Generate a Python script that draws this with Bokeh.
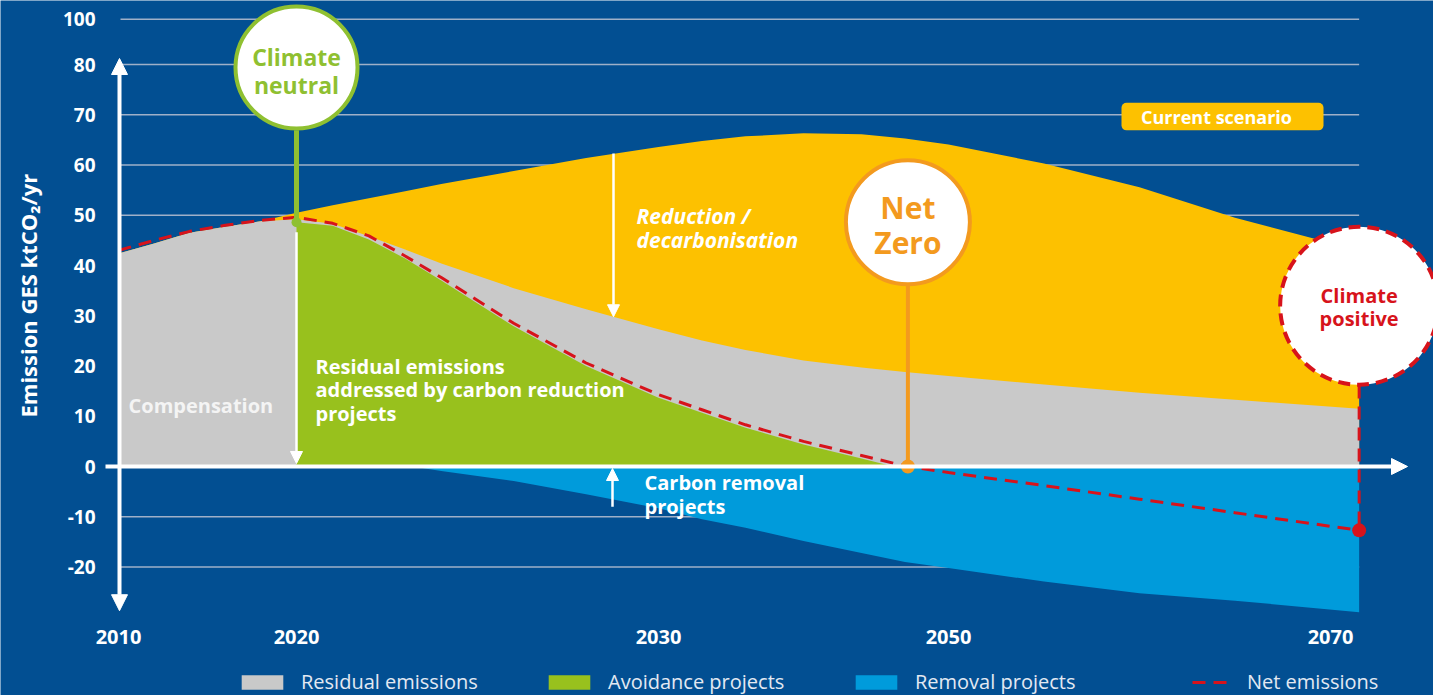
import numpy as np
from bokeh.plotting import figure
from bokeh.models import (Range1d, LinearAxis, FixedTicker, Grid, Arrow, NormalHead,
                          Legend, LegendItem, Label, ColumnDataSource)
from bokeh.core.properties import value
from bokeh.embed import file_html
from bokeh.resources import INLINE

# ---------------- data ----------------
# schematic (non-linear) year axis: tick years and their positions along the axis
AXIS_YEARS = [2010, 2020, 2030, 2050, 2070]
AXIS_POS = [118, 296, 658, 948, 1330]

Y_TICKS = [-20, -10, 0, 10, 20, 30, 40, 50, 60, 70, 80, 89]
Y_TICK_LABELS = ["-20", "-10", "0", "10", "20", "30", "40", "50", "60", "70", "80", "100"]

YEARS = [2010, 2012, 2014, 2016, 2018, 2020, 2021, 2022, 2023, 2024, 2026, 2028, 2030,
         2033, 2036, 2040, 2044, 2047, 2050, 2055, 2060, 2065, 2071.5]
CURRENT_SCENARIO = [42.4, 44.4, 46.5, 47.7, 48.8, 50.5, 52.0, 53.4, 54.8, 56.2, 58.8, 61.4, 63.6,
                    64.8, 65.7, 66.3, 66.1, 65.3, 64.1, 60.3, 55.6, 49.5, 43.0]
RESIDUAL_EMISSIONS = [42.4, 44.4, 46.5, 47.7, 48.8, 49.2, 48.3, 45.8, 43.2, 40.4, 35.5, 31.3, 27.3,
                      25.1, 23.2, 21.1, 19.7, 18.8, 18.0, 16.3, 14.7, 13.3, 11.5]
NET_EMISSIONS = [43.0, 45.0, 46.8, 48.0, 49.0, 49.6, 48.4, 45.9, 41.9, 37.6, 28.5, 20.6, 14.3,
                 11.3, 8.3, 5.0, 2.2, 0.1, -1.2, -3.8, -6.5, -9.2, -12.7]

AVOID_YEARS = [2020, 2021, 2022, 2023, 2024, 2026, 2028, 2030, 2033, 2036, 2040, 2044, 2046.2]
AVOIDANCE_PROJECTS = [48.6, 47.9, 45.2, 41.4, 37.0, 27.9, 20.0, 13.7, 10.7, 7.7, 4.4, 1.6, 0.0]

REMOVAL_YEARS = [2023.2, 2024, 2026, 2028, 2030, 2033, 2036, 2040, 2044, 2047,
                 2050, 2055, 2060, 2065, 2071.5]
REMOVAL_PROJECTS = [0.0, -0.9, -2.9, -5.5, -8.3, -10.5, -12.2, -14.8, -17.2, -19.0,
                    -20.2, -22.9, -25.2, -26.7, -29.0]

NEUTRAL_YEAR = 2020
NET_ZERO_YEAR = 2047.2
POSITIVE_YEAR = 2071.5

# ---------------- style ----------------
BG = "#024f92"
YELLOW = "#fdc100"
GREY = "#c9c9c9"
GREEN = "#98c11d"
BLUE = "#009bdb"
RED = "#d7131b"
ORANGE = "#f39a1e"
NEUTRAL_GREEN = "#8fc031"
GRIDC = "#9fb0c8"
FONT_NAME = "Open Sans"
FONT = value(FONT_NAME)


def xpos(years):
    yrs = np.atleast_1d(np.asarray(years, dtype=float))
    ay = np.asarray(AXIS_YEARS, dtype=float)
    ap = np.asarray(AXIS_POS, dtype=float)
    out = np.interp(yrs, ay, ap)
    hi = yrs > ay[-1]
    slope = (ap[-1] - ap[-2]) / (ay[-1] - ay[-2])
    out[hi] = ap[-1] + (yrs[hi] - ay[-1]) * slope
    return out


W, H = 1433, 695
p = figure(width=W, height=H, output_backend="svg", toolbar_location=None,
           x_range=Range1d(0, W), y_range=Range1d(-45.57, 92.74),
           x_axis_location=None, y_axis_location=None, min_border=0,
           background_fill_color=BG, border_fill_color=BG, outline_line_color=None)
# drop the default grids
p.center = [r for r in p.center if not isinstance(r, Grid)]

# horizontal grid lines, limited to the plotted span
grid_vals = [t for t in Y_TICKS if t != 0]
grid_x0 = float(xpos(AXIS_YEARS[0])[0]) + 2
grid_x1 = float(xpos(POSITIVE_YEAR)[0])
p.segment(x0=[grid_x0] * len(grid_vals), y0=grid_vals, x1=[grid_x1] * len(grid_vals),
          y1=grid_vals, line_color=GRIDC, line_width=1.6, level="underlay")

# axes with fixed locations
xaxis = LinearAxis(ticker=FixedTicker(ticks=AXIS_POS, minor_ticks=[]),
                   major_label_overrides={pos: str(yr) for pos, yr in zip(AXIS_POS, AXIS_YEARS)},
                   fixed_location=-30.6, axis_line_color=None,
                   major_tick_line_color=None, minor_tick_line_color=None,
                   major_label_text_color="white", major_label_text_font=FONT_NAME,
                   major_label_text_font_style="bold", major_label_text_font_size="20px",
                   major_label_standoff=4)
p.add_layout(xaxis, "below")
yaxis = LinearAxis(ticker=FixedTicker(ticks=Y_TICKS, minor_ticks=[]),
                   major_label_overrides=dict(zip(Y_TICKS, Y_TICK_LABELS)),
                   fixed_location=106, axis_line_color=None,
                   major_tick_line_color=None, minor_tick_line_color=None,
                   major_label_text_color="white", major_label_text_font=FONT_NAME,
                   major_label_text_font_style="bold", major_label_text_font_size="19px",
                   major_label_standoff=5)
p.add_layout(yaxis, "left")

# areas
src = ColumnDataSource(dict(x=xpos(YEARS), current=CURRENT_SCENARIO,
                            residual=RESIDUAL_EMISSIONS, net=NET_EMISSIONS,
                            zero=[0.0] * len(YEARS)))
r_yellow = p.varea(x="x", y1="zero", y2="current", source=src, fill_color=YELLOW)
r_grey = p.varea(x="x", y1="zero", y2="residual", source=src, fill_color=GREY)
r_green = p.varea(x=xpos(AVOID_YEARS), y1=[0.0] * len(AVOID_YEARS), y2=AVOIDANCE_PROJECTS,
                  fill_color=GREEN)
r_blue = p.varea(x=xpos(REMOVAL_YEARS), y1=REMOVAL_PROJECTS, y2=[0.0] * len(REMOVAL_YEARS),
                 fill_color=BLUE)

# white axis arrows
p.add_layout(Arrow(start=NormalHead(size=16, fill_color="white", line_color="white"),
                   end=NormalHead(size=16, fill_color="white", line_color="white"),
                   x_start=119, y_start=-28.7, x_end=119, y_end=81.2,
                   line_color="white", line_width=4))
p.add_layout(Arrow(end=NormalHead(size=16, fill_color="white", line_color="white"),
                   x_start=105, y_start=0, x_end=1407, y_end=0,
                   line_color="white", line_width=4))

# net emissions line
r_net = p.line(x="x", y="net", source=src, line_color=RED, line_width=3, line_dash="13 8")

# inner white arrows
nx = float(xpos(NEUTRAL_YEAR)[0])
for (xs, ys, xe, ye) in [(nx, 46.6, nx, 0.6), (613, 62.3, 613, 29.8), (612, -8.0, 612, -0.4)]:
    p.add_layout(Arrow(end=NormalHead(size=12, fill_color="white", line_color="white"),
                       x_start=xs, y_start=ys, x_end=xe, y_end=ye,
                       line_color="white", line_width=2.5))

# Climate neutral marker
p.segment(x0=[nx], y0=[66.9], x1=[nx], y1=[AVOIDANCE_PROJECTS[0]],
          line_color=NEUTRAL_GREEN, line_width=5)
p.circle(x=[nx], y=[AVOIDANCE_PROJECTS[0]], radius=5, fill_color=NEUTRAL_GREEN, line_color=None)
p.circle(x=[nx], y=[79.4], radius=61, fill_color="white", line_color=NEUTRAL_GREEN, line_width=4)
p.text(x=[nx, nx], y=[81.4, 75.9], text=["Climate", "neutral"], text_align="center",
       text_baseline="middle", text_color=NEUTRAL_GREEN, text_font=FONT,
       text_font_style="bold", text_font_size="23px")

# Net zero marker
zx = float(xpos(NET_ZERO_YEAR)[0])
p.segment(x0=[zx], y0=[36.0], x1=[zx], y1=[0], line_color=ORANGE, line_width=4)
p.circle(x=[zx], y=[48.6], radius=62, fill_color="white", line_color=ORANGE, line_width=4)
p.circle(x=[zx], y=[0], radius=7, fill_color=ORANGE, line_color=None)
p.text(x=[zx, zx], y=[51.5, 44.6], text=["Net", "Zero"], text_align="center",
       text_baseline="middle", text_color=ORANGE, text_font=FONT,
       text_font_style="bold", text_font_size="30px")

# Climate positive marker
px_ = float(xpos(POSITIVE_YEAR)[0])
p.segment(x0=[px_], y0=[16.1], x1=[px_], y1=[NET_EMISSIONS[-1]], line_color=RED,
          line_width=3, line_dash="13 8")
p.circle(x=[px_], y=[NET_EMISSIONS[-1]], radius=7, fill_color=RED, line_color=None)
p.circle(x=[px_], y=[32.0], radius=79, fill_color="white", line_color=RED, line_width=4,
         line_dash="12 7")
p.text(x=[px_, px_], y=[34.1, 29.4], text=["Climate", "positive"], text_align="center",
       text_baseline="middle", text_color=RED, text_font=FONT,
       text_font_style="bold", text_font_size="20px")

# Current scenario badge
p.quad(left=[1121], right=[1323], top=[72.4], bottom=[66.9], fill_color=YELLOW,
       line_color=None, border_radius=5)
p.text(x=[1216], y=[69.6], text=["Current scenario"], text_align="center",
       text_baseline="middle", text_color="white", text_font=FONT,
       text_font_style="bold", text_font_size="18px")

# area texts
p.text(x=[128], y=[12.1], text=["Compensation"], text_align="left", text_baseline="middle",
       text_color="#f4f4f4", text_font=FONT, text_font_style="bold", text_font_size="20px")
p.text(x=[315, 315, 315], y=[19.9, 15.3, 10.5],
       text=["Residual emissions", "addressed by carbon reduction", "projects"],
       text_align="left", text_baseline="middle", text_color="white", text_font=FONT,
       text_font_style="bold", text_font_size="20px")
p.text(x=[636, 636], y=[49.8, 45.0], text=["Reduction /", "decarbonisation"],
       text_align="left", text_baseline="middle", text_color="white", text_font=FONT,
       text_font_style="bold italic", text_font_size="21px")
p.text(x=[644, 644], y=[-3.2, -8.0], text=["Carbon removal", "projects"],
       text_align="left", text_baseline="middle", text_color="white", text_font=FONT,
       text_font_style="bold", text_font_size="20px")

# y axis title
p.add_layout(Label(x=27, y=34.0, text="Emission GES ktCO₂/yr", angle=np.pi / 2,
                   text_align="center", text_baseline="middle", text_color="white",
                   text_font=FONT_NAME, text_font_style="bold", text_font_size="22px"))

# legends
leg_common = dict(orientation="horizontal", padding=0, margin=0, border_line_color=None,
                  background_fill_alpha=0, label_text_color="#e3e9f2",
                  label_text_font=FONT_NAME, label_text_font_size="20px",
                  label_height=24, glyph_height=18)
legend1 = Legend(items=[LegendItem(label="Residual emissions", renderers=[r_grey]),
                        LegendItem(label="Avoidance projects", renderers=[r_green]),
                        LegendItem(label="Removal projects", renderers=[r_blue])],
                 location=(236, 0), glyph_width=52, label_standoff=13, label_width=200,
                 spacing=42, **leg_common)
legend2 = Legend(items=[LegendItem(label="Net emissions", renderers=[r_net])],
                 location=(1192, 0), glyph_width=36, label_standoff=19, **leg_common)
p.add_layout(legend1)
p.add_layout(legend2)

open("out.html", "w").write(file_html(p, INLINE))
